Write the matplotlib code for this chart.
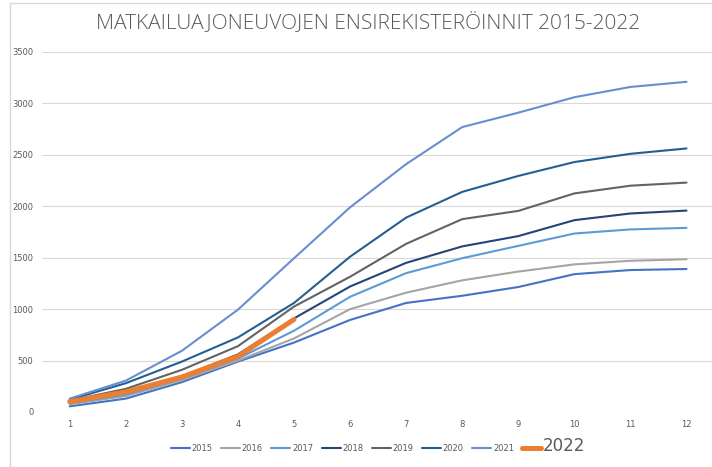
import matplotlib
matplotlib.use("Agg")
from matplotlib import pyplot as plt
from matplotlib.lines import Line2D

months = [1, 2, 3, 4, 5, 6, 7, 8, 9, 10, 11, 12]

y2015 = [55, 130, 290, 490, 675, 895, 1060, 1130, 1215, 1340, 1380, 1390]
y2016 = [75, 155, 310, 500, 715, 1000, 1160, 1280, 1365, 1435, 1470, 1485]
y2017 = [85, 170, 325, 520, 790, 1120, 1350, 1495, 1615, 1735, 1775, 1790]
y2018 = [95, 195, 345, 560, 910, 1220, 1450, 1610, 1710, 1865, 1930, 1958]
y2019 = [110, 225, 410, 640, 1025, 1315, 1635, 1875, 1955, 2125, 2200, 2230]
y2020 = [120, 280, 490, 725, 1060, 1510, 1890, 2140, 2295, 2430, 2510, 2562]
y2021 = [130, 305, 595, 995, 1495, 1990, 2410, 2770, 2910, 3060, 3160, 3210]
y2022 = [100, 195, 340, 540, 900]

series = [
    ("2015", y2015, "#4472C4"),
    ("2016", y2016, "#A5A5A5"),
    ("2017", y2017, "#5B9BD5"),
    ("2018", y2018, "#264478"),
    ("2019", y2019, "#636363"),
    ("2020", y2020, "#255E91"),
    ("2021", y2021, "#698ED0"),
]

fig = plt.figure(figsize=(7.12, 4.67), dpi=100)
ax = fig.add_axes([0.0586, 0.1178, 0.945, 0.7709])

for name, vals, col in series:
    ax.plot(months[:len(vals)], vals, color=col, lw=1.5, label=name, solid_capstyle="round")
ax.plot(months[:len(y2022)], y2022, color="#ED7D31", lw=3.6, label="2022", solid_capstyle="round")

ax.set_xlim(0.5, 12.5)
ax.set_ylim(0, 3500)
ax.set_xticks(months)
ax.set_yticks(range(0, 3501, 500))
ax.grid(axis="y", color="#D9D9D9", lw=0.8)
ax.set_axisbelow(True)
for s in ax.spines.values():
    s.set_visible(False)
ax.tick_params(length=0, labelsize=6, labelcolor="#595959", pad=6)

fig.text(0.517, 0.952, "MATKAILUAJONEUVOJEN ENSIREKISTERÖINNIT 2015-2022",
         ha="center", va="center", fontsize=15, color="#595959",
         family="Open Sans", fontweight="light")

leg = ax.legend(loc="center", bbox_to_anchor=(0.5, -0.095), ncol=8, frameon=False,
                fontsize=6, handlelength=2.3, handletextpad=0.2, columnspacing=1.0,
                labelcolor="#595959")
leg.get_texts()[-1].set_fontsize(12)

# chart border (left and top edges visible in the crop)
fig.add_artist(Line2D([0.014, 0.014], [0, 0.994], color="#D9D9D9", lw=1))
fig.add_artist(Line2D([0.014, 1.0], [0.994, 0.994], color="#D9D9D9", lw=1))

fig.savefig("out.png", dpi=100)
